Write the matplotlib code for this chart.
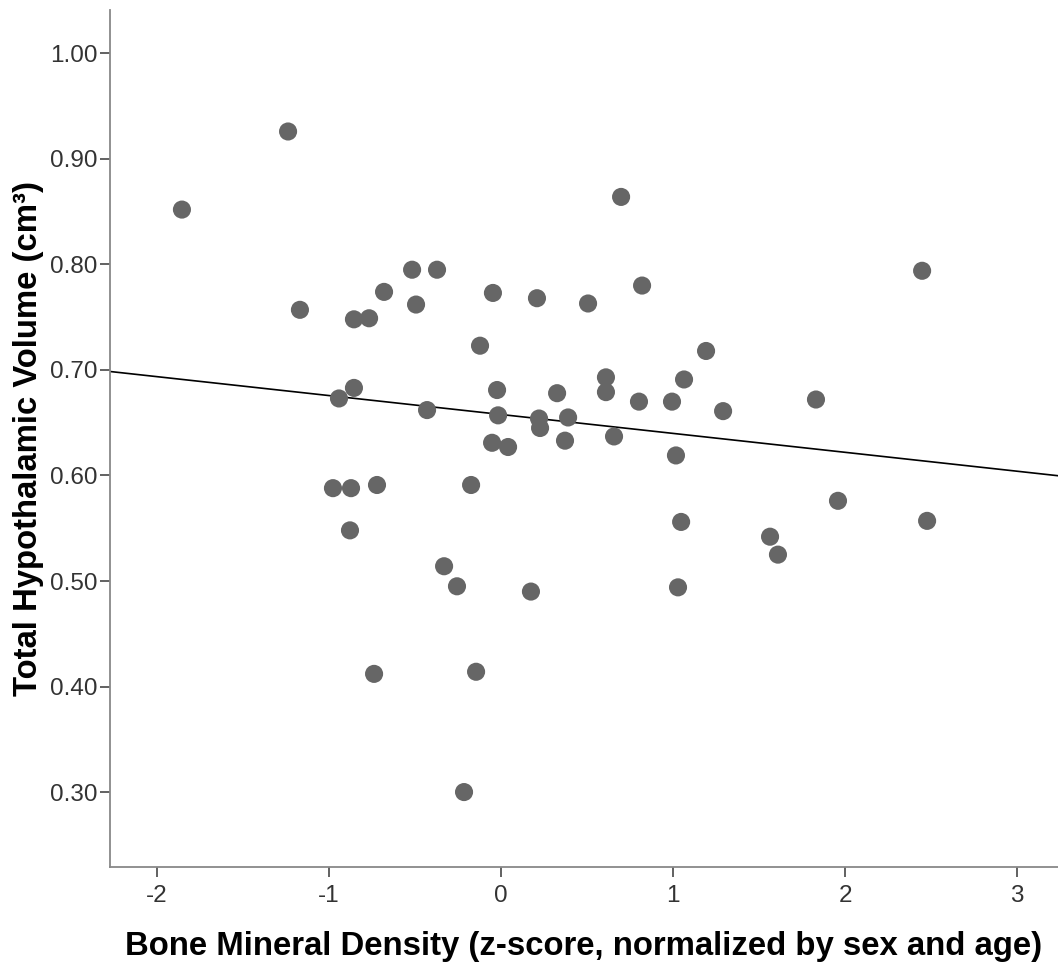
import numpy as np
import matplotlib.pyplot as plt

plt.rcParams['font.family'] = ['Liberation Sans', 'DejaVu Sans']

# BMD z-score vs total hypothalamic volume, one point per subject
bmd_z = [-1.855, -1.238, -1.169, -0.855, -0.767, -0.680, -0.517, -0.372, -0.494,
         -0.942, -0.855, -0.430, -0.977, -0.872, -0.721, -0.878, -0.738, -0.331,
         -0.256, -0.215, -0.145, -0.174, -0.122, -0.047, -0.023, -0.017, -0.052,
         0.041, 0.209, 0.221, 0.227, 0.174, 0.326, 0.390, 0.372, 0.506, 0.610,
         0.610, 0.657, 0.698, 0.820, 0.802, 0.994, 1.017, 1.029, 1.047, 1.064,
         1.192, 1.291, 1.564, 1.610, 1.831, 1.959, 2.448, 2.477]
volume = [0.852, 0.926, 0.757, 0.748, 0.749, 0.774, 0.795, 0.795, 0.762,
          0.673, 0.683, 0.662, 0.588, 0.588, 0.591, 0.548, 0.412, 0.514,
          0.495, 0.300, 0.414, 0.591, 0.723, 0.773, 0.681, 0.657, 0.631,
          0.627, 0.768, 0.654, 0.645, 0.490, 0.678, 0.655, 0.633, 0.763, 0.693,
          0.679, 0.637, 0.864, 0.780, 0.670, 0.670, 0.619, 0.494, 0.556, 0.691,
          0.718, 0.661, 0.542, 0.525, 0.672, 0.576, 0.794, 0.557]

x_ticks = [-2, -1, 0, 1, 2, 3]
y_ticks = [0.30, 0.40, 0.50, 0.60, 0.70, 0.80, 0.90, 1.00]
x_lim = (-2.273, 3.238)
y_lim = (0.229, 1.041)

fig = plt.figure(figsize=(10.58, 9.66), dpi=100)
ax = fig.add_axes([0.104, 0.1025, 0.896, 0.887])

ax.scatter(bmd_z, volume, s=170, color='#666666', edgecolors='none', zorder=3)

# linear fit across the full x range
slope, intercept = np.polyfit(bmd_z, volume, 1)
xs = np.array(x_lim)
ax.plot(xs, intercept + slope * xs, color='black', lw=1.2, zorder=2)

ax.set_xlim(*x_lim)
ax.set_ylim(*y_lim)
ax.set_xticks(x_ticks)
ax.set_xticklabels([str(t) for t in x_ticks])
ax.set_yticks(y_ticks)
ax.set_yticklabels([f'{t:.2f}' for t in y_ticks])

for side in ['top', 'right']:
    ax.spines[side].set_visible(False)
for side in ['left', 'bottom']:
    ax.spines[side].set_color('#888888')
    ax.spines[side].set_linewidth(1.3)

ax.tick_params(axis='both', direction='out', length=7, width=1.3, color='#555555',
               labelsize=17.5, labelcolor='#333333', pad=2)
ax.tick_params(axis='x', pad=6)

ax.set_xlabel('Bone Mineral Density (z-score, normalized by sex and age)',
              fontsize=23.7, fontweight='bold', labelpad=17)
ax.set_ylabel('Total Hypothalamic Volume (cm\u00b3)', fontsize=23.7, fontweight='bold',
              labelpad=4)

fig.savefig('out.png', dpi=100)
